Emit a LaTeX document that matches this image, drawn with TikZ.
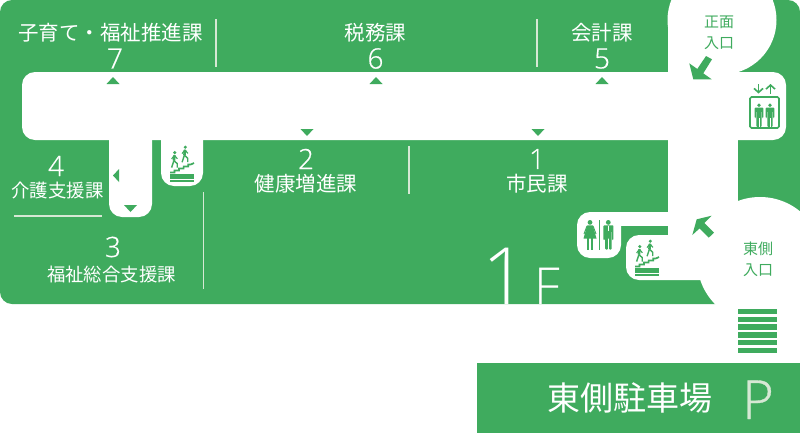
\documentclass[tikz,border=0pt]{standalone}
\usepackage{fontspec}
\usetikzlibrary{arrows.meta}
\setmainfont{Open Sans}
\newfontfamily\jp{Noto Sans CJK JP}
\newfontfamily\thin{Open Sans Light}
\newfontfamily\thinb[FakeBold=0.6]{Open Sans Light}
\definecolor{gr}{HTML}{3FAB5E}
\definecolor{ln}{HTML}{D6E8D4}
\newcommand{\walker}{%
  \fill (0,0) circle (1.7);
  \draw[line width=2.6] (-0.3,2.8) -- (-0.9,8);
  \draw[line width=1.1] (-0.4,2.6) -- (-3.2,6.4);
  \draw[line width=1.1] (-0.4,2.6) -- (2.6,6.2);
  \draw[line width=1.4] (-0.9,8) -- (-3.2,15);
  \draw[line width=1.4] (-0.9,8) -- (2.4,11) -- (2.4,15);
}
\newcommand{\stairicon}[2]{%
  \begin{scope}[shift={(#1,#2)},gr]
    \begin{scope}[shift={(4.8,6.6)}]\walker\end{scope}
    \begin{scope}[shift={(15.3,1.2)}]\walker\end{scope}
    \draw[line width=1.7] (0,26.4) -- (4.4,26.4) -- (4.4,24.4) -- (9,24.4) -- (9,22.4) -- (13.6,22.4) -- (13.6,20.4) -- (18.2,20.4) -- (18.2,18.4) -- (21,18.4) -- (24,17);
    \fill (0,28.4) rectangle (24,30.6);
    \fill (0,31.1) rectangle (24,33.3);
    \fill (0,33.8) rectangle (24,36);
  \end{scope}%
}
\newcommand{\liftperson}[1]{%
  \begin{scope}[shift={(#1,0)},gr]
    \fill (0,105.3) circle (1.9);
    \fill[rounded corners=1] (-4.4,107.6) -- (4.4,107.6) -- (4.4,118) -- (3.1,118) -- (3.1,111) -- (2.7,111) -- (2.7,127) -- (-2.7,127) -- (-2.7,111) -- (-3.1,111) -- (-3.1,118) -- (-4.4,118) -- cycle;
    \draw[white,line width=0.6] (0,118) -- (0,127);
  \end{scope}%
}
\tikzset{
  lab/.style={text=white,font=\jp\fontsize{20.5}{24}\selectfont,inner sep=0pt,anchor=center},
  labs/.style={text=white,font=\jp\fontsize{18.4}{22}\selectfont,inner sep=0pt,anchor=center},
  ent/.style={text=gr,font=\jp\fontsize{15}{18}\selectfont,inner sep=0pt,anchor=center},
  num/.style={text=white,font=\thinb\fontsize{28}{30}\selectfont,inner sep=0pt,anchor=center},
  sep/.style={ln,line width=1.8},
  tri/.style={fill=gr,draw=none}
}
\begin{document}
\begin{tikzpicture}[x=1pt,y=-1pt]
\useasboundingbox (0,0) rectangle (800,434);
% body
\fill[gr,rounded corners=12] (0,0) rectangle (800,304);
\fill[white] (738,225) rectangle (801,310);
% corridors
\fill[white,rounded corners=13] (22,72) rectangle (786,140);
\fill[white] (668,20) rectangle (722,72);
\fill[white] (668,72) rectangle (738,270);
\fill[white] (722,20) circle (54.5);
\fill[white] (760,260) circle (63);
\fill[white,rounded corners=13] (109,115) rectangle (152,217);
\fill[white,rounded corners=13] (161,115) rectangle (203,186);
\fill[white,rounded corners=13] (577,212) rectangle (621,258);
\fill[white] (600,212) rectangle (670,226);
\fill[white,rounded corners=13] (626,235) rectangle (720,280);
% separators
\draw[sep] (216,19) -- (216,67);
\draw[sep] (537,19) -- (537,67);
\draw[sep] (409,146) -- (409,194);
\draw[sep] (203.5,192) -- (203.5,289);
\draw[sep] (14,216) -- (102,216);
% labels top
\node[lab] (l7) at (110.5,33) {子育て・福祉推進課};
\node[num] (n7) at (115,58.5) {7};
\node[lab] (l6) at (375.5,33) {税務課};
\node[num] (n6) at (375.5,58.5) {6};
\node[lab] (l5) at (602,33) {会計課};
\node[num] (n5) at (602,58.5) {5};
% labels bottom
\node[num] (n2) at (306,159) {2};
\node[lab] (l2) at (306,184) {健康増進課};
\node[num] (n1) at (537,159) {1};
\node[lab] (l1) at (537,184) {市民課};
\node[num] (n4) at (56,166) {4};
\node[labs] (l4) at (57.5,191) {介護支援課};
\node[num] (n3) at (113,247) {3};
\node[labs] (l3) at (111.5,275) {福祉総合支援課};
% floor
\node[text=white,font=\thin\fontsize{79}{80}\selectfont,inner sep=0pt,anchor=base] (fl1) at (505,304) {1};
\node[text=white,font=\thin\fontsize{51}{52}\selectfont,inner sep=0pt,anchor=base] (flf) at (547,304) {F};
% triangles
\fill[tri] (113,77) -- (119.5,84) -- (106.5,84) -- cycle;
\fill[tri] (376,77) -- (382.5,84) -- (369.5,84) -- cycle;
\fill[tri] (602,77) -- (608.5,84) -- (595.5,84) -- cycle;
\fill[tri] (307,136) -- (300.5,129) -- (313.5,129) -- cycle;
\fill[tri] (538,136) -- (531.5,129) -- (544.5,129) -- cycle;
\fill[tri] (130.5,212) -- (124,205) -- (137,205) -- cycle;
\fill[tri] (113,175.5) -- (119,169) -- (119,182) -- cycle;
% entrances
\node[ent] (e1) at (719,22) {正面};
\node[ent] (e2) at (719,43) {入口};
\node[ent] (e3) at (758,249) {東側};
\node[ent] (e4) at (758,270) {入口};
% arrows
\fill[gr] (689.3,63.3) -- (697.3,69) -- (706,56) -- (712,59.3) -- (703.3,73.3) -- (711.7,79.3) -- (693.3,79.3) -- cycle;
\fill[gr] (711.7,215.7) -- (704.3,223) -- (714,232.7) -- (708.7,237.7) -- (699.5,228.5) -- (692.3,235) -- (696.7,219.3) -- cycle;
% elevator
\draw[gr,line width=1.6,rounded corners=1.5] (750,97) rectangle (779,128);
\draw[gr,line width=1.6,-{Straight Barb[length=4pt,width=9pt]}] (758.5,84) -- (758.5,93.5);
\draw[gr,line width=1.6,-{Straight Barb[length=4pt,width=9pt]}] (770.5,93.5) -- (770.5,84);
\liftperson{759}
\liftperson{770}
% stairs
\stairicon{170}{146}
\stairicon{635}{240}
% WC
\begin{scope}[gr]
\fill (590,222.4) circle (2.4);
\draw[line width=1] (587,226) -- (584,234) (593,226) -- (596,234);
\fill (587.3,225.3) -- (592.7,225.3) -- (596.5,238.5) -- (583.5,238.5) -- cycle;
\fill (587,238) rectangle (589.3,249.5);
\fill (590.7,238) rectangle (593,249.5);
\fill (599,220) rectangle (600.2,250);
\fill (608.3,222.4) circle (2.4);
\fill[rounded corners=0.8] (603.4,225.3) -- (613.4,225.3) -- (613.4,240) -- (612,240) -- (612,231) -- (611.6,231) -- (611.6,249.5) -- (609,249.5) -- (609,238) -- (607.8,238) -- (607.8,249.5) -- (605.2,249.5) -- (605.2,231) -- (604.8,231) -- (604.8,240) -- (603.4,240) -- cycle;
\draw[white,line width=0.5] (608.4,225.5) -- (608.4,231);
\end{scope}
% crossing stripes
\foreach \yy in {309,316.7,324.4,332.1,339.8,347.5}{\fill[gr] (738,\yy) rectangle (777,\yy+5.4);}
% parking
\fill[gr] (477,363) rectangle (800,433);
\node[text=white,font=\jp\fontsize{33}{36}\selectfont,inner sep=0pt,anchor=center] (park) at (629.5,398) {東側駐車場};
\node[text=ln,font=\thinb\fontsize{54}{56}\selectfont,inner sep=0pt,anchor=base] (pp) at (758,419) {P};
\end{tikzpicture}
\end{document}
